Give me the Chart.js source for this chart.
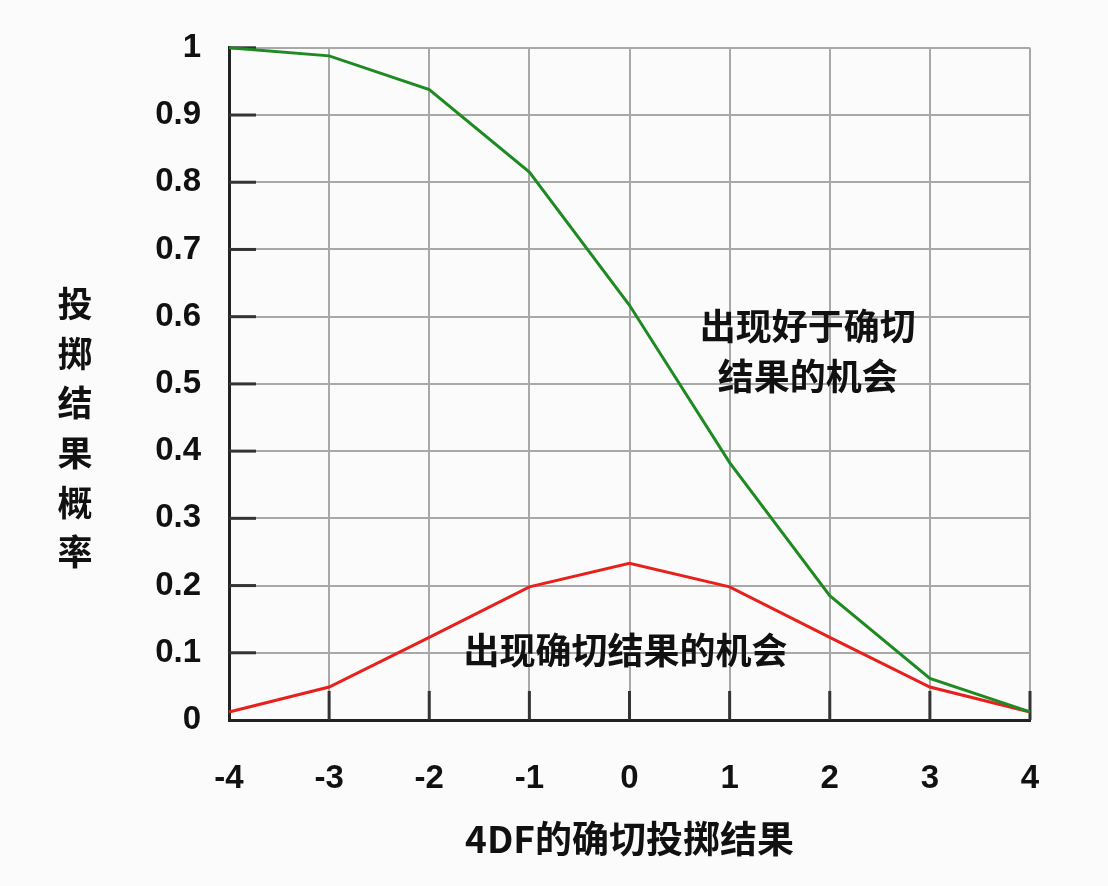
<!DOCTYPE html>
<html>
<head>
<meta charset="utf-8">
<script src="https://cdn.jsdelivr.net/npm/chart.js@4"></script>
<style>
  html, body { margin: 0; padding: 0; background: #fbfbfb; }
  #wrap { width: 1108px; height: 886px; }
</style>
</head>
<body>
<div id="wrap"><canvas id="c" width="1108" height="886"></canvas></div>
<script>
// ---- data ----
const xValues = [-4, -3, -2, -1, 0, 1, 2, 3, 4];
const betterThanExact = [1.0, 0.988, 0.938, 0.815, 0.617, 0.383, 0.185, 0.062, 0.012];
const exactResult = [0.012, 0.049, 0.123, 0.198, 0.233, 0.198, 0.123, 0.049, 0.012];
const xTickLabels = ['-4', '-3', '-2', '-1', '0', '1', '2', '3', '4'];
const yTickLabels = ['0', '0.1', '0.2', '0.3', '0.4', '0.5', '0.6', '0.7', '0.8', '0.9', '1'];
const seriesNames = ['出现好于确切结果的机会', '出现确切结果的机会'];
const xTitle = '4DF的确切投掷结果';
const yTitle = '投掷结果概率';
const betterLabelLines = ['出现好于确切', '结果的机会'];
const exactLabelLines = ['出现确切结果的机会'];

const CJK = "'Noto Sans CJK SC', sans-serif";
const LAT = "'Liberation Sans', Arial, sans-serif";

const toPoints = (ys) => xValues.map((x, i) => ({ x: x, y: ys[i] }));

const decoPlugin = {
  id: 'deco',
  beforeDatasetsDraw(chart) {
    const ctx = chart.ctx;
    const xs = chart.scales.x, ys = chart.scales.y;
    const a = chart.chartArea;
    ctx.save();
    ctx.strokeStyle = '#333';
    ctx.lineWidth = 3;
    // inner ticks on y axis
    yTickLabels.forEach((_, i) => {
      if (i === 0) return;
      const py = ys.getPixelForValue(i / 10);
      ctx.beginPath();
      ctx.moveTo(a.left, py);
      ctx.lineTo(a.left + 27, py);
      ctx.stroke();
    });
    // inner ticks on x axis
    xValues.forEach((v, i) => {
      if (i === 0) return;
      const px = xs.getPixelForValue(v);
      ctx.beginPath();
      ctx.moveTo(px, a.bottom);
      ctx.lineTo(px, a.bottom - 29);
      ctx.stroke();
    });
    ctx.restore();
  },
  afterDraw(chart) {
    const ctx = chart.ctx;
    const xs = chart.scales.x, ys = chart.scales.y;
    ctx.save();
    ctx.fillStyle = '#111';
    ctx.textAlign = 'center';
    ctx.textBaseline = 'middle';
    ctx.font = "bold 36px " + CJK;
    // label for better-than curve
    const bx = xs.getPixelForValue(1.78);
    betterLabelLines.forEach((t, i) => {
      ctx.fillText(t, bx, ys.getPixelForValue(0.585) + i * 50);
    });
    // label for exact curve
    const ex = xs.getPixelForValue(-0.04);
    exactLabelLines.forEach((t, i) => {
      ctx.fillText(t, ex, ys.getPixelForValue(0.104) + i * 50);
    });
    // vertical y-axis title
    ctx.font = "bold 35px " + CJK;
    const chars = Array.from(yTitle);
    chars.forEach((ch, i) => {
      ctx.fillText(ch, 75, 304 + i * 49.6);
    });
    ctx.restore();
  }
};

new Chart(document.getElementById('c'), {
  type: 'line',
  data: {
    datasets: [
      {
        label: seriesNames[0],
        data: toPoints(betterThanExact),
        borderColor: '#1e8a22',
        borderWidth: 3,
        pointRadius: 0,
        tension: 0,
        fill: false,
        clip: false
      },
      {
        label: seriesNames[1],
        data: toPoints(exactResult),
        borderColor: '#e8201c',
        borderWidth: 3,
        pointRadius: 0,
        tension: 0,
        fill: false,
        clip: false
      }
    ]
  },
  options: {
    responsive: false,
    animation: false,
    devicePixelRatio: 1,
    layout: { padding: { top: 47, right: 78, left: 0, bottom: 0 } },
    plugins: { legend: { display: false }, tooltip: { enabled: false } },
    scales: {
      x: {
        type: 'linear',
        min: -4, max: 4,
        afterFit(s) { s.height = 166; },
        afterBuildTicks(s) { s.ticks = xValues.map(v => ({ value: v })); },
        ticks: {
          padding: 39,
          color: '#111',
          font: { family: LAT, size: 33, weight: 'bold' },
          callback: (v) => xTickLabels[xValues.indexOf(v)],
          maxRotation: 0,
          autoSkip: false
        },
        grid: { color: '#a8a8a8', lineWidth: 2, drawTicks: false },
        border: { color: '#222', width: 3 },
        title: {
          display: true,
          text: xTitle,
          color: '#111',
          font: { family: CJK, size: 37, weight: 'bold' },
          padding: { top: 0, bottom: 25 }
        }
      },
      y: {
        type: 'linear',
        min: 0, max: 1,
        afterFit(s) { s.width = 229; },
        afterBuildTicks(s) { s.ticks = yTickLabels.map((_, i) => ({ value: i / 10 })); },
        ticks: {
          padding: 28,
          color: '#111',
          font: { family: LAT, size: 33, weight: 'bold' },
          callback: (v) => yTickLabels[Math.round(v * 10)],
          autoSkip: false
        },
        grid: { color: '#a8a8a8', lineWidth: 2, drawTicks: false },
        border: { color: '#222', width: 3 }
      }
    }
  },
  plugins: [decoPlugin]
});
</script>
</body>
</html>
